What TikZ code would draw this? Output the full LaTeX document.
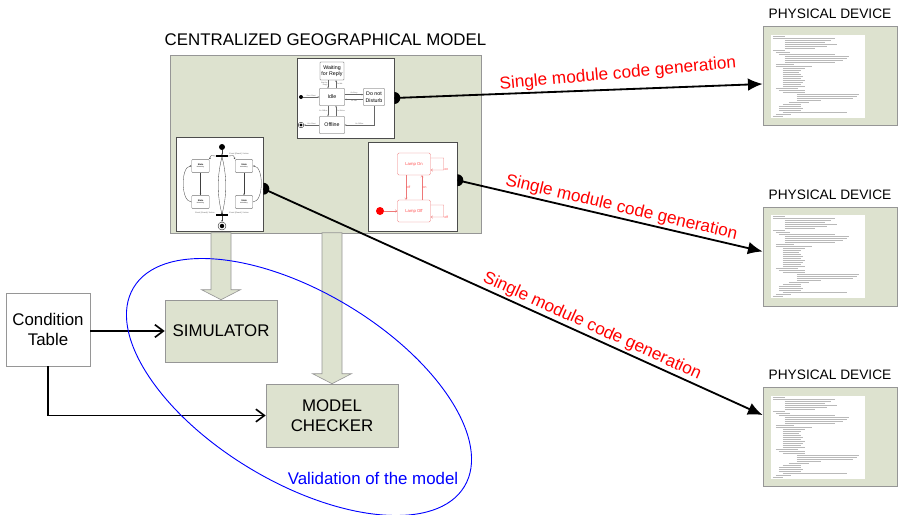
\documentclass[tikz,border=0pt]{standalone}
\usepackage{fontspec}
\setmainfont{Liberation Sans}
\usetikzlibrary{positioning,arrows.meta,calc}

\definecolor{modelgreen}{RGB}{221,226,207}
\definecolor{framegray}{RGB}{150,150,150}
\definecolor{lampred}{RGB}{238,120,120}
\definecolor{codegray}{RGB}{185,185,185}

\tikzset{
  modelbox/.style={draw=framegray,fill=modelgreen,line width=0.9pt,inner sep=0pt},
  devbox/.style={modelbox,minimum width=67mm,minimum height=49.5mm},
  shot/.style={draw=black!70,fill=white,line width=0.9pt,inner sep=0pt},
  sheet/.style={fill=white,inner sep=0pt,minimum width=47mm,minimum height=41.5mm},
  toolbox/.style={modelbox,font=\fontsize{24}{28.5}\selectfont,align=center},
  condbox/.style={draw=framegray,fill=white,line width=0.9pt,inner sep=0pt,font=\fontsize{24}{28.5}\selectfont,align=center},
  bigtext/.style={font=\fontsize{24}{28.5}\selectfont,inner sep=0pt},
  devlabel/.style={font=\fontsize{19.5}{22}\selectfont,inner sep=0pt},
  genline/.style={line width=2.6pt,-{Latex[length=21pt,width=18pt]}},
  genlabel/.style={text=red,font=\fontsize{24.5}{28}\selectfont,inner sep=2pt},
  feed/.style={line width=2.3pt,-{Straight Barb[length=12pt,width=18pt]}},
  fatarrow/.style={draw=framegray,fill=modelgreen,line width=0.9pt},
  valring/.style={draw=blue,line width=1.3pt},
  valtext/.style={text=blue,font=\fontsize{24}{28}\selectfont,inner sep=0pt},
  codeline/.style={draw=codegray,line width=0.45pt},
  % small state machines
  pstate/.style={draw=black!70,fill=white,rounded corners=0.8pt,line width=0.6pt,inner sep=0pt,align=center,font=\fontsize{7.5}{9.5}\selectfont},
  tinyarrow/.style={draw=black!60,line width=0.45pt,-{Stealth[length=2.4pt,width=2.2pt]}},
  tinylabel/.style={text=black!60,font=\fontsize{2.6}{2.9}\selectfont,inner sep=0.6pt},
  dot/.style={circle,fill=black,inner sep=0pt},
  bullseye/.style={circle,draw=black,line width=0.45pt,fill=white,inner sep=0pt,minimum size=#1,
    path picture={\fill[black] (path picture bounding box.center) circle[radius=#1/3.6];}},
  bullseye/.default=2.8mm,
  lstate/.style={draw=lampred,rounded corners=2pt,line width=0.6pt,minimum width=16.5mm,minimum height=11mm,inner sep=0pt,text=red!70,font=\fontsize{6}{7}\selectfont},
  lamparrow/.style={draw=lampred,line width=0.5pt,-{Straight Barb[length=2.5pt,width=3.5pt]}},
  lamplabel/.style={text=red!70,font=\fontsize{4.8}{5.2}\selectfont,inner sep=0.8pt},
  reddot/.style={circle,fill=red,inner sep=0pt,minimum size=4mm},
  astate/.style={draw=black!55,fill=white,rounded corners=1.5pt,line width=0.45pt,minimum width=8.8mm,minimum height=6.6mm,inner sep=0pt,align=center,font=\fontsize{3.2}{3.8}\selectfont},
  aarrow/.style={draw=black!75,line width=0.45pt,-{Stealth[length=2.4pt,width=2.2pt]}},
  bar/.style={fill=black,inner sep=0pt,minimum width=6mm,minimum height=0.6mm},
  evlabel/.style={text=black!60,font=\fontsize{2.8}{3}\selectfont,inner sep=0.3pt}
}

\newcommand{\codelines}[1]{%
  \foreach \row/\ind/\len in {1/2/12,2/2/62,3/14/46,4/14/40,5/14/52,6/14/42,7/14/30,8/2/12,9/5/14,10/8/56,
      11/14/64,12/14/62,13/14/58,14/14/50,15/5/18,16/5/36,17/12/22,18/12/18,19/12/16,20/12/18,
      21/12/20,22/12/18,23/12/22,24/12/20,25/12/18,26/12/22,27/5/22,28/8/26,29/12/22,30/26/62,
      31/26/60,32/26/56,33/26/24,34/18/20,35/12/18,36/8/22,37/8/24,38/8/22,39/12/64,40/5/15,41/2/10}
    \draw[codeline] ([shift={(\ind,\row*2-0.5)}]#1.north west) -- ++(\len,0);%
}
\newcommand{\halfdot}[1]{\fill (#1) ++(0,-6) arc[start angle=-90,end angle=90,radius=6] -- cycle;}

\begin{document}
\begin{tikzpicture}[x=0.5mm,y=-0.5mm]
\useasboundingbox (0,0) rectangle (903,514);

% the model and its three machines
\node[modelbox,minimum width=155.5mm,minimum height=89mm] (model) at (325.5,144) {};
\node[bigtext,above=4.2mm of model] (title) {CENTRALIZED GEOGRAPHICAL MODEL};
\node[shot,minimum width=48.5mm,minimum height=40mm] (presence) at (345.5,98) {};
\node[shot,minimum width=43.5mm,minimum height=47mm] (activity) at (219.5,184) {};
\node[shot,minimum width=44.5mm,minimum height=44.5mm] (lamp) at (412.5,186.5) {};

% presence machine
\node[pstate,minimum width=12mm,minimum height=9mm] (waiting) at (332,71) {Waiting\\for Reply};
\node[pstate,minimum width=12.5mm,minimum height=8.5mm] (idle) at (332,97) {Idle};
\node[pstate,minimum width=10.5mm,minimum height=8.5mm] (dnd) at (374,97) {Do not\\Disturb};
\node[pstate,minimum width=12.5mm,minimum height=8.5mm] (offline) at (332,125) {Offline};
\node[dot,minimum size=2mm] (pstart) at (301,97) {};
\node[bullseye] (pend) at (301,125) {};
\draw[tinyarrow] (pstart) -- (idle) node[midway,above,tinylabel] {Start Client};
\draw[tinyarrow] (offline) -- (pend) node[midway,above,tinylabel] {Exit Client};
\draw[tinyarrow] ([xshift=-2mm]waiting.south) -- ([xshift=-2mm]idle.north) node[midway,left,tinylabel,align=right] {Wait for\\Reply};
\draw[tinyarrow] ([xshift=2mm]idle.north) -- ([xshift=2mm]waiting.south) node[midway,right,tinylabel] {Go Idle};
\draw[tinyarrow] ([yshift=1.2mm]idle.east) -- ([yshift=1.2mm]dnd.west) node[midway,above,tinylabel] {Go Busy};
\draw[tinyarrow] ([yshift=-1.2mm]dnd.west) -- ([yshift=-1.2mm]idle.east) node[midway,below,tinylabel] {Go Idle};
\draw[tinyarrow] ([xshift=-2mm]idle.south) -- ([xshift=-2mm]offline.north) node[midway,left,tinylabel] {Go Offline};
\draw[tinyarrow] ([xshift=2mm]offline.north) -- ([xshift=2mm]idle.south) node[midway,right,tinylabel] {Go Online};
\draw[tinyarrow] (dnd.south) |- (offline.east) node[pos=0.75,above,tinylabel] {Go Offline};

% lamp machine
\node[lstate] (lampon) at (414,164) {Lamp On};
\node[lstate] (lampoff) at (414,211) {Lamp Off};
\node[reddot] (lstart) at (380,211) {};
\draw[lamparrow] (lstart) -- (lampoff);
\draw[lamparrow] ([xshift=-4mm]lampon.south) -- ([xshift=-4mm]lampoff.north) node[midway,right,lamplabel] {off};
\draw[lamparrow] ([xshift=4mm]lampoff.north) -- ([xshift=4mm]lampon.south) node[midway,right,lamplabel] {on};
\draw[lamparrow] ([yshift=3mm]lampon.east) -- ++(13,0) -- ++(0,12) node[lamplabel,anchor=west] {on} -- ([yshift=-3mm]lampon.east);
\draw[lamparrow] ([yshift=3mm]lampoff.east) -- ++(13,0) -- ++(0,12) node[lamplabel,anchor=west] {off} -- ([yshift=-3mm]lampoff.east);

% activity machine
\node[dot,minimum size=3mm] (ainit) at (222,147) {};
\node[bar] (fork) at (222,156) {};
\node[astate] (s1) at (200.5,166) {\textbf{State}\\{\fontsize{2.3}{2.6}\selectfont do/activity}};
\node[astate] (s2) at (244,166) {\textbf{State}\\{\fontsize{2.3}{2.6}\selectfont do/activity}};
\node[astate] (s3) at (200.5,202) {\textbf{State}\\{\fontsize{2.3}{2.6}\selectfont do/activity}};
\node[astate] (s4) at (244,202) {\textbf{State}\\{\fontsize{2.3}{2.6}\selectfont do/activity}};
\node[bar] (join) at (222,215) {};
\node[bullseye=4mm] (afin) at (222,226) {};
\node[evlabel,right=0.5mm of fork,yshift=1mm] (ev1) {Event [Guard] / Action};
\node[evlabel,left=0.5mm of join,yshift=1mm] (ev2) {Event [Guard] / Action};
\node[evlabel,right=0.5mm of join,yshift=1mm] (ev3) {Event [Guard] / Action};
\draw[aarrow] (ainit) -- (fork);
\draw[aarrow] (fork.west) .. controls +(-6,0) and +(2,-5) .. (s1.north east);
\draw[aarrow] (fork.east) .. controls +(6,0) and +(-2,-5) .. (s2.north west);
\draw[aarrow] (fork.south) .. controls +(-5,20) and +(-5,-20) .. (join.north);
\draw[aarrow] (fork.south) .. controls +(5,20) and +(5,-20) .. (join.north);
\draw[aarrow] (s1) -- (s3);
\draw[aarrow] (s2) -- (s4);
\draw[aarrow] (s3.west) .. controls +(-11,0) and +(-11,0) .. (s1.west);
\draw[aarrow] (s4.east) .. controls +(11,0) and +(11,0) .. (s2.east);
\draw[aarrow] (join) -- (afin);

% validation side
\node[condbox,minimum width=42mm,minimum height=36.5mm] (cond) at (48,329.5) {Condition\\Table};
\node[toolbox,minimum width=56mm,minimum height=31mm] (sim) at (221,331) {SIMULATOR};
\node[toolbox,minimum width=66mm,minimum height=31.5mm] (checker) at (332,415.5) {MODEL\\CHECKER};
\draw[fatarrow] (sim.north) -- ++(-19.5,-10) -- ++(9.5,0) -- ++(0,-57) -- ++(20,0) -- ++(0,57) -- ++(9.5,0) -- cycle;
\draw[fatarrow] (checker.north) -- ++(-19.5,-10) -- ++(9.5,0) -- ++(0,-141) -- ++(20,0) -- ++(0,141) -- ++(9.5,0) -- cycle;
\draw[feed] (cond.east |- sim.west) -- (sim.west);
\draw[feed] (cond.south) |- (checker.west);
\draw[valring,rotate around={-31:(299,387)}] (299,387) ellipse [x radius=193,y radius=95];
\node[valtext] (val) at (373,478) {Validation of the model};

% physical devices
\node[devbox] (dev1) at (830,76) {};
\node[devbox] (dev2) at (830,256.5) {};
\node[devbox] (dev3) at (830,437) {};
\foreach \d in {1,2,3}{
  \node[devlabel,above=3.5mm of dev\d] (devname\d) {PHYSICAL DEVICE};
  \node[sheet] (code\d) at ([xshift=-6mm]dev\d.center) {};
  \codelines{code\d}
}

% code generation
\coordinate (d1) at (presence.east);
\coordinate (d2) at ($(lamp.north east)!0.43!(lamp.south east)$);
\coordinate (d3) at ($(activity.north east)!0.55!(activity.south east)$);
\draw[genline] (d1) -- ($(dev1.north west)!0.58!(dev1.south west)$) node[genlabel,pos=0.61,sloped,above=2.5mm,rotate=3] {Single module code generation};
\draw[genline] (d2) -- ($(dev2.north west)!0.45!(dev2.south west)$) node[genlabel,pos=0.53,sloped,above] {Single module code generation};
\draw[genline] (d3) -- ($(dev3.north west)!0.28!(dev3.south west)$) node[genlabel,pos=0.65,sloped,above] {Single module code generation};
\foreach \d in {d1,d2,d3} \halfdot{\d};
\end{tikzpicture}
\end{document}
